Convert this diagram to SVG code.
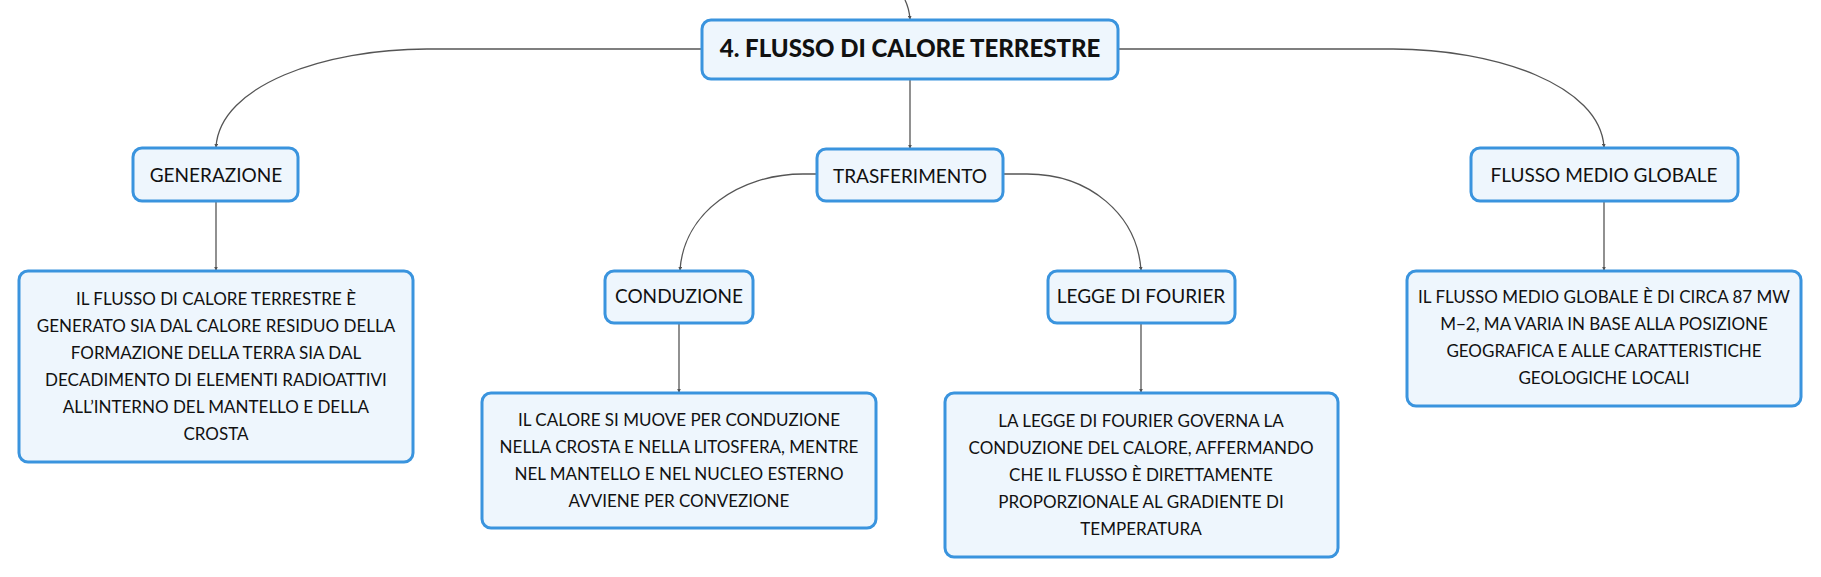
<svg xmlns="http://www.w3.org/2000/svg" width="1821" height="577" viewBox="0 0 1821 577">
<style>
.box{fill:#eef6fd;stroke:#3a94de;stroke-width:3}
.t{font-family:Lato,"Noto Sans","Liberation Sans",sans-serif;fill:#111;text-anchor:middle}
.title{font-size:24px;font-weight:900}
.sub{font-size:19px}
.body{font-size:17px}
.c{fill:none;stroke:#555;stroke-width:1.3;marker-end:url(#arr)}
</style>
<defs>
<marker id="arr" viewBox="0 0 6 6" refX="5" refY="3" markerWidth="4" markerHeight="4" orient="auto" markerUnits="userSpaceOnUse">
<path d="M0,0 L6,3 L0,6 z" fill="#555"/>
</marker>
</defs>
<rect width="1821" height="577" fill="#fff"/>
<g id="connectors">
<path class="c" d="M905 0 Q909 8 910 19"/>
<path class="c" d="M910 79 L910 148"/>
<path class="c" d="M702 49 L427 49 C325 49 220 85 216 147"/>
<path class="c" d="M1118 49 L1393 49 C1495 49 1600 85 1604 147"/>
<path class="c" d="M817 174 L803 174 C740 174 684 212 680 270"/>
<path class="c" d="M1003 174 L1027 174 C1090 174 1137 215 1141 270"/>
<path class="c" d="M216 201 L216 270"/>
<path class="c" d="M679 323 L679 392"/>
<path class="c" d="M1141 323 L1141 392"/>
<path class="c" d="M1604 201 L1604 270"/>
</g>
<g id="main">
<rect class="box" x="702" y="20" width="416" height="59" rx="9"/>
<text class="t title" x="910" y="57">4. FLUSSO DI CALORE TERRESTRE</text>
</g>
<g id="generazione">
<rect class="box" x="133" y="148" width="165" height="53" rx="9"/>
<text class="t sub" x="216" y="182">GENERAZIONE</text>
</g>
<g id="trasferimento">
<rect class="box" x="817" y="149" width="186" height="52" rx="9"/>
<text class="t sub" x="910" y="183">TRASFERIMENTO</text>
</g>
<g id="flusso-medio">
<rect class="box" x="1471" y="148" width="267" height="53" rx="9"/>
<text class="t sub" x="1604" y="182">FLUSSO MEDIO GLOBALE</text>
</g>
<g id="conduzione">
<rect class="box" x="605" y="271" width="148" height="52" rx="9"/>
<text class="t sub" x="679" y="303">CONDUZIONE</text>
</g>
<g id="legge-fourier">
<rect class="box" x="1048" y="271" width="187" height="52" rx="9"/>
<text class="t sub" x="1141" y="303">LEGGE DI FOURIER</text>
</g>
<g id="gen-text">
<rect class="box" x="19" y="271" width="394" height="191" rx="9"/>
<text class="t body" x="216" y="305">IL FLUSSO DI CALORE TERRESTRE È</text>
<text class="t body" x="216" y="332">GENERATO SIA DAL CALORE RESIDUO DELLA</text>
<text class="t body" x="216" y="359">FORMAZIONE DELLA TERRA SIA DAL</text>
<text class="t body" x="216" y="386">DECADIMENTO DI ELEMENTI RADIOATTIVI</text>
<text class="t body" x="216" y="413">ALL’INTERNO DEL MANTELLO E DELLA</text>
<text class="t body" x="216" y="440">CROSTA</text>
</g>
<g id="flusso-text">
<rect class="box" x="1407" y="271" width="394" height="135" rx="9"/>
<text class="t body" x="1604" y="303">IL FLUSSO MEDIO GLOBALE È DI CIRCA 87 MW</text>
<text class="t body" x="1604" y="330">M−2, MA VARIA IN BASE ALLA POSIZIONE</text>
<text class="t body" x="1604" y="357">GEOGRAFICA E ALLE CARATTERISTICHE</text>
<text class="t body" x="1604" y="384">GEOLOGICHE LOCALI</text>
</g>
<g id="conduzione-text">
<rect class="box" x="482" y="393" width="394" height="135" rx="9"/>
<text class="t body" x="679" y="426">IL CALORE SI MUOVE PER CONDUZIONE</text>
<text class="t body" x="679" y="453">NELLA CROSTA E NELLA LITOSFERA, MENTRE</text>
<text class="t body" x="679" y="480">NEL MANTELLO E NEL NUCLEO ESTERNO</text>
<text class="t body" x="679" y="507">AVVIENE PER CONVEZIONE</text>
</g>
<g id="legge-text">
<rect class="box" x="945" y="393" width="393" height="164" rx="9"/>
<text class="t body" x="1141" y="427">LA LEGGE DI FOURIER GOVERNA LA</text>
<text class="t body" x="1141" y="454">CONDUZIONE DEL CALORE, AFFERMANDO</text>
<text class="t body" x="1141" y="481">CHE IL FLUSSO È DIRETTAMENTE</text>
<text class="t body" x="1141" y="508">PROPORZIONALE AL GRADIENTE DI</text>
<text class="t body" x="1141" y="535">TEMPERATURA</text>
</g>
</svg>
